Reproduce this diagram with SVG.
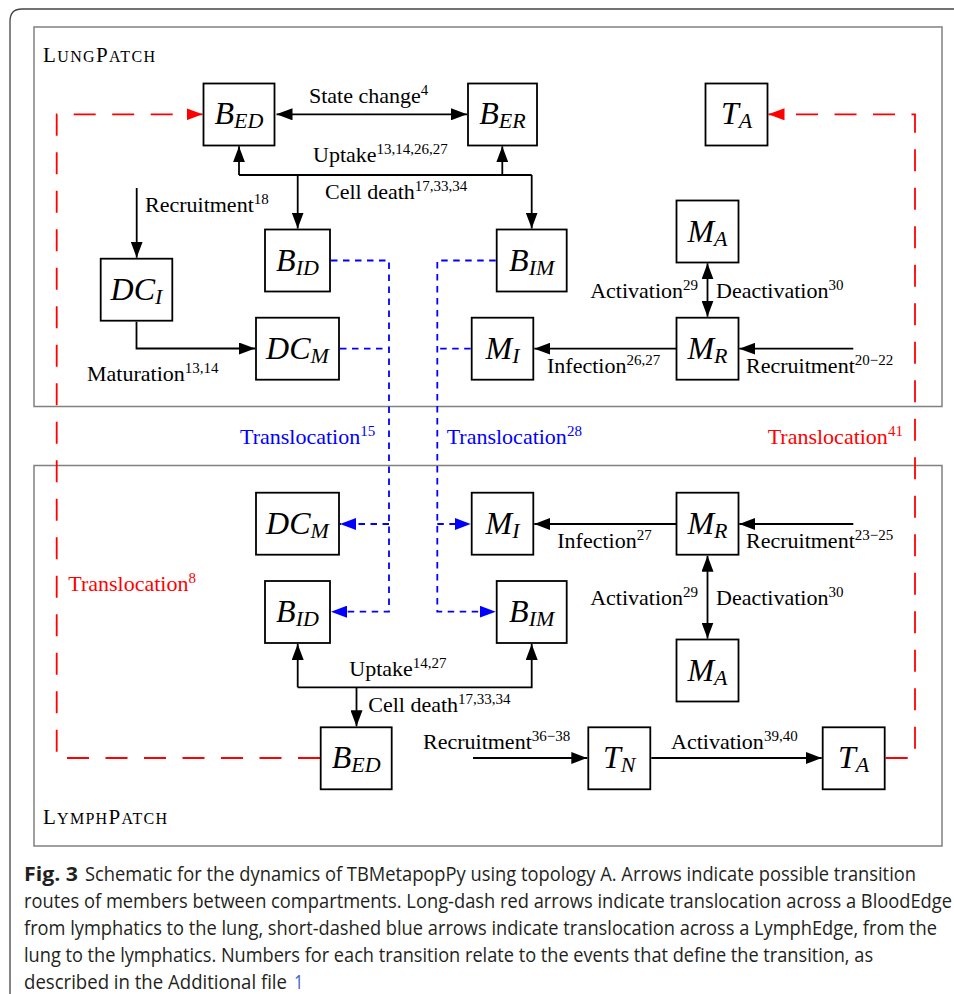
<svg xmlns="http://www.w3.org/2000/svg" width="954" height="994" viewBox="0 0 954 994">
<style>
.box{fill:#fff;stroke:#000;stroke-width:1.8}
.nt{font-family:"Liberation Serif","Times New Roman",serif;font-style:italic;font-size:32px;text-anchor:middle;fill:#000}
.sub{font-size:22px}
.lb{font-family:"Liberation Serif","Times New Roman",serif;font-size:22px;fill:#000}
.sup{font-size:15px}
.end{text-anchor:end}
.blk{fill:none;stroke:#000;stroke-width:1.8}
.blu{fill:none;stroke:#0000ff;stroke-width:1.8;stroke-dasharray:6.5 5.5}
.red{fill:none;stroke:#ff0000;stroke-width:1.8;stroke-dasharray:22 16.5}
.patch{fill:none;stroke:#808080;stroke-width:1.5}
.pl{font-family:"Liberation Serif","Times New Roman",serif;font-size:21px;fill:#000}
.sc{font-size:16px}
.cap{font-family:"Open Sans","Noto Sans","DejaVu Sans",sans-serif;font-size:20px;fill:#231f20}
</style>
<defs>
<marker id="ak" viewBox="0 0 16 12" refX="16" refY="6" markerWidth="16" markerHeight="12" markerUnits="userSpaceOnUse" orient="auto-start-reverse"><path d="M0,0 L16,6 L0,12 z" fill="#000"/></marker>
<marker id="ab" viewBox="0 0 16 12" refX="16" refY="6" markerWidth="16" markerHeight="12" markerUnits="userSpaceOnUse" orient="auto-start-reverse"><path d="M0,0 L16,6 L0,12 z" fill="#0000ff"/></marker>
<marker id="ar" viewBox="0 0 16 12" refX="16" refY="6" markerWidth="16" markerHeight="12" markerUnits="userSpaceOnUse" orient="auto-start-reverse"><path d="M0,0 L16,6 L0,12 z" fill="#ff0000"/></marker>
</defs>
<rect width="954" height="994" fill="#fff"/>
<path d="M10,994 V21 Q10,9 22,9 H954" fill="none" stroke="#444" stroke-width="1.3"/>

<g id="lungpatch">
<rect class="patch" x="34" y="27" width="908" height="379.5"/>
<text class="pl" x="43" y="62" textLength="112">L<tspan class="sc">UNG</tspan>P<tspan class="sc">ATCH</tspan></text>
</g>
<g id="lymphpatch">
<rect class="patch" x="34" y="465.5" width="908" height="380.5"/>
<text class="pl" x="43" y="824" textLength="124">L<tspan class="sc">YMPH</tspan>P<tspan class="sc">ATCH</tspan></text>
</g>

<g id="connectors">
<line class="blk" x1="276.5" y1="114.3" x2="467" y2="114.3" marker-start="url(#ak)" marker-end="url(#ak)"/>
<path class="blk" d="M239,175 V146.3"  marker-end="url(#ak)"/>
<path class="blk" d="M239,175 H531.7"/>
<path class="blk" d="M502.3,175 V146.3" marker-end="url(#ak)"/>
<path class="blk" d="M297.7,175 V228.5" marker-end="url(#ak)"/>
<path class="blk" d="M531.7,175 V228.5" marker-end="url(#ak)"/>
<path class="blk" d="M136.7,188 V257.7" marker-end="url(#ak)"/>
<path class="blk" d="M136.5,321.7 V348.5 H255" marker-end="url(#ak)"/>
<line class="blk" x1="707.5" y1="263.3" x2="707.5" y2="316.7" marker-start="url(#ak)" marker-end="url(#ak)"/>
<path class="blk" d="M676,348.7 H534.3" marker-end="url(#ak)"/>
<path class="blk" d="M853.3,348.7 H739.3" marker-end="url(#ak)"/>

<path class="blu" d="M331,260.5 H389 V611.7 H331" marker-end="url(#ab)"/>
<path class="blu" d="M340,348.7 H389"/>
<path class="blu" d="M389,524 H340" marker-end="url(#ab)"/>
<path class="blu" d="M495.7,260.5 H437.3 V611.7 H495.7" marker-end="url(#ab)"/>
<path class="blu" d="M470.7,348.7 H437.3"/>
<path class="blu" d="M437.3,524 H470.7" marker-end="url(#ab)"/>

<path class="red" d="M320,758 H56.7 V114.3 H202.5" marker-end="url(#ar)"/>
<path class="red" d="M885.7,758 H915 V114.3 H768.5" marker-end="url(#ar)"/>

<path class="blk" d="M676,524 H534.3" marker-end="url(#ak)"/>
<path class="blk" d="M853.3,524 H739.3" marker-end="url(#ak)"/>
<line class="blk" x1="707.5" y1="555.7" x2="707.5" y2="638.5" marker-start="url(#ak)" marker-end="url(#ak)"/>
<path class="blk" d="M297.7,687.3 V644" marker-end="url(#ak)"/>
<path class="blk" d="M297.7,687.3 H531.7 V644" marker-end="url(#ak)"/>
<path class="blk" d="M356.5,687.3 V726.3" marker-end="url(#ak)"/>
<path class="blk" d="M473,758 H587.3" marker-end="url(#ak)"/>
<path class="blk" d="M651.3,758 H821.7" marker-end="url(#ak)"/>
</g>

<g id="labels">
<text class="lb" x="309" y="103">State change<tspan class="sup" dy="-8">4</tspan></text>
<text class="lb" x="313" y="162">Uptake<tspan class="sup" dy="-8">13,14,26,27</tspan></text>
<text class="lb" x="325" y="199">Cell death<tspan class="sup" dy="-8">17,33,34</tspan></text>
<text class="lb" x="145" y="212">Recruitment<tspan class="sup" dy="-8">18</tspan></text>
<text class="lb" x="87" y="381">Maturation<tspan class="sup" dy="-8">13,14</tspan></text>
<text class="lb end" x="698" y="298">Activation<tspan class="sup" dy="-8">29</tspan></text>
<text class="lb" x="716" y="298">Deactivation<tspan class="sup" dy="-8">30</tspan></text>
<text class="lb" x="547" y="373">Infection<tspan class="sup" dy="-8">26,27</tspan></text>
<text class="lb" x="746" y="373">Recruitment<tspan class="sup" dy="-8">20−22</tspan></text>
<text class="lb" x="240" y="444" style="fill:#0000ff">Translocation<tspan class="sup" dy="-8">15</tspan></text>
<text class="lb" x="446.7" y="444" style="fill:#0000ff">Translocation<tspan class="sup" dy="-8">28</tspan></text>
<text class="lb" x="767.7" y="444" style="fill:#ff0000">Translocation<tspan class="sup" dy="-8">41</tspan></text>
<text class="lb" x="68.3" y="591" style="fill:#ff0000">Translocation<tspan class="sup" dy="-8">8</tspan></text>
<text class="lb" x="557.3" y="548">Infection<tspan class="sup" dy="-8">27</tspan></text>
<text class="lb" x="746" y="548">Recruitment<tspan class="sup" dy="-8">23−25</tspan></text>
<text class="lb end" x="698" y="605">Activation<tspan class="sup" dy="-8">29</tspan></text>
<text class="lb" x="716" y="605">Deactivation<tspan class="sup" dy="-8">30</tspan></text>
<text class="lb" x="349.3" y="676">Uptake<tspan class="sup" dy="-8">14,27</tspan></text>
<text class="lb" x="368.3" y="712">Cell death<tspan class="sup" dy="-8">17,33,34</tspan></text>
<text class="lb" x="423" y="749">Recruitment<tspan class="sup" dy="-8">36−38</tspan></text>
<text class="lb" x="671" y="749">Activation<tspan class="sup" dy="-8">39,40</tspan></text>
</g>

<g id="lung_BED"><rect class="box" x="203.5" y="83.5" width="71" height="62"/><text class="nt" x="239" y="124">B<tspan class="sub" dy="4">ED</tspan></text></g>
<g id="lung_BER"><rect class="box" x="468" y="83.5" width="69" height="62"/><text class="nt" x="502.5" y="124">B<tspan class="sub" dy="4">ER</tspan></text></g>
<g id="lung_TA"><rect class="box" x="705.5" y="83.5" width="62" height="62"/><text class="nt" x="736.5" y="124">T<tspan class="sub" dy="4">A</tspan></text></g>
<g id="lung_MA"><rect class="box" x="676.5" y="200.5" width="62" height="62"/><text class="nt" x="707.5" y="241.5">M<tspan class="sub" dy="4">A</tspan></text></g>
<g id="lung_DCI"><rect class="box" x="100.7" y="258.7" width="71.6" height="62"/><text class="nt" x="136.5" y="299.7">DC<tspan class="sub" dy="4">I</tspan></text></g>
<g id="lung_BID"><rect class="box" x="265" y="229.5" width="65" height="62"/><text class="nt" x="297.5" y="270.5">B<tspan class="sub" dy="4">ID</tspan></text></g>
<g id="lung_BIM"><rect class="box" x="496.7" y="229.5" width="70" height="62"/><text class="nt" x="531.7" y="270.5">B<tspan class="sub" dy="4">IM</tspan></text></g>
<g id="lung_DCM"><rect class="box" x="256" y="317.7" width="83" height="62"/><text class="nt" x="297.5" y="358.7">DC<tspan class="sub" dy="4">M</tspan></text></g>
<g id="lung_MI"><rect class="box" x="471.7" y="317.7" width="61.6" height="62"/><text class="nt" x="502.5" y="358.7">M<tspan class="sub" dy="4">I</tspan></text></g>
<g id="lung_MR"><rect class="box" x="676.5" y="317.7" width="62" height="62"/><text class="nt" x="707.5" y="358.7">M<tspan class="sub" dy="4">R</tspan></text></g>

<g id="lymph_DCM"><rect class="box" x="256" y="492.7" width="83" height="62"/><text class="nt" x="297.5" y="533.7">DC<tspan class="sub" dy="4">M</tspan></text></g>
<g id="lymph_MI"><rect class="box" x="471.7" y="492.7" width="61.6" height="62"/><text class="nt" x="502.5" y="533.7">M<tspan class="sub" dy="4">I</tspan></text></g>
<g id="lymph_MR"><rect class="box" x="676.5" y="492.7" width="62" height="62"/><text class="nt" x="707.5" y="533.7">M<tspan class="sub" dy="4">R</tspan></text></g>
<g id="lymph_BID"><rect class="box" x="265" y="581" width="65" height="62"/><text class="nt" x="297.5" y="622">B<tspan class="sub" dy="4">ID</tspan></text></g>
<g id="lymph_BIM"><rect class="box" x="496.7" y="581" width="70" height="62"/><text class="nt" x="531.7" y="622">B<tspan class="sub" dy="4">IM</tspan></text></g>
<g id="lymph_MA"><rect class="box" x="676.5" y="639.5" width="62" height="62"/><text class="nt" x="707.5" y="680.5">M<tspan class="sub" dy="4">A</tspan></text></g>
<g id="lymph_BED"><rect class="box" x="320.7" y="727.3" width="71" height="62"/><text class="nt" x="356.2" y="768.3">B<tspan class="sub" dy="4">ED</tspan></text></g>
<g id="lymph_TN"><rect class="box" x="588.3" y="727.3" width="62" height="62"/><text class="nt" x="619.3" y="768.3">T<tspan class="sub" dy="4">N</tspan></text></g>
<g id="lymph_TA"><rect class="box" x="822.7" y="727.3" width="62" height="62"/><text class="nt" x="853.7" y="768.3">T<tspan class="sub" dy="4">A</tspan></text></g>

<g id="caption" transform="scale(0.82,1)">
<text class="cap" x="29.3" y="881" font-weight="bold" textLength="65.9" lengthAdjust="spacingAndGlyphs">Fig. 3</text>
<text class="cap" x="103.7" y="881" textLength="1013.4" lengthAdjust="spacingAndGlyphs">Schematic for the dynamics of TBMetapopPy using topology A. Arrows indicate possible transition</text>
<text class="cap" x="29.3" y="908" textLength="1131.7" lengthAdjust="spacingAndGlyphs">routes of members between compartments. Long-dash red arrows indicate translocation across a BloodEdge</text>
<text class="cap" x="29.3" y="935" textLength="1113.4" lengthAdjust="spacingAndGlyphs">from lymphatics to the lung, short-dashed blue arrows indicate translocation across a LymphEdge, from the</text>
<text class="cap" x="29.3" y="962" textLength="1035.4" lengthAdjust="spacingAndGlyphs">lung to the lymphatics. Numbers for each transition relate to the events that define the transition, as</text>
<text class="cap" x="29.3" y="989" textLength="320.7" lengthAdjust="spacingAndGlyphs">described in the Additional file</text>
<text class="cap" x="358.5" y="989" fill="#3a5fcd" style="fill:#3a5fcd">1</text>
</g>
</svg>
